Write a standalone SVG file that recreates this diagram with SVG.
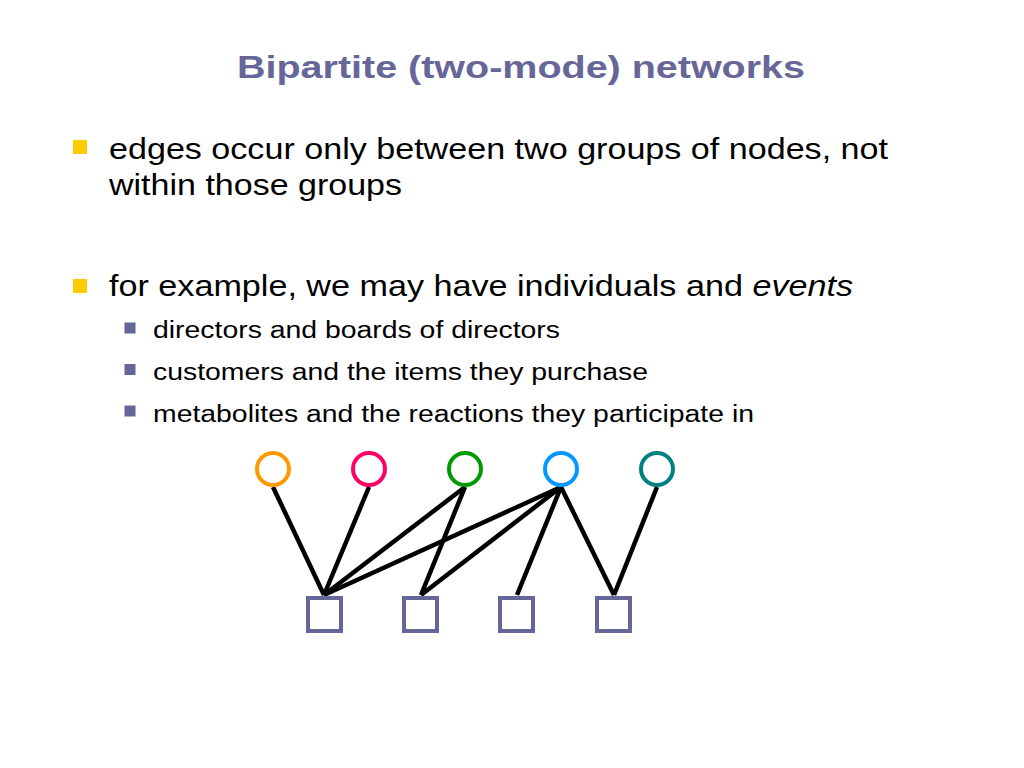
<svg xmlns="http://www.w3.org/2000/svg" width="1024" height="768" viewBox="0 0 1024 768">
<style>
.title{font-family:"Liberation Sans",Arial,sans-serif;font-weight:bold;font-size:31px;fill:#666699}
.l1{font-family:"Liberation Sans",Arial,sans-serif;font-size:29px;fill:#000}
.l2{font-family:"Liberation Sans",Arial,sans-serif;font-size:23px;fill:#000}
.b1{fill:#FFCC00}
.b2{fill:#666699}
.edge{stroke:#000;stroke-width:4.5;stroke-linecap:butt}
.circ{fill:#fff;stroke-width:4}
.sq{fill:#fff;stroke:#666699;stroke-width:4}
</style>
<rect width="1024" height="768" fill="#fff"/>
<text class="title" x="237" y="78" textLength="568" lengthAdjust="spacingAndGlyphs">Bipartite (two-mode) networks</text>
<rect class="b1" x="73" y="140" width="14" height="14"/>
<text class="l1" x="109" y="158.5" textLength="779" lengthAdjust="spacingAndGlyphs">edges occur only between two groups of nodes, not</text>
<text class="l1" x="109" y="195" textLength="293" lengthAdjust="spacingAndGlyphs">within those groups</text>
<rect class="b1" x="73" y="279" width="14" height="14"/>
<text class="l1" x="109" y="296" textLength="744" lengthAdjust="spacingAndGlyphs">for example, we may have individuals and <tspan font-style="italic">events</tspan></text>
<rect class="b2" x="124.5" y="322.5" width="11" height="11"/>
<text class="l2" x="153" y="338" textLength="407" lengthAdjust="spacingAndGlyphs">directors and boards of directors</text>
<rect class="b2" x="124.5" y="364" width="11" height="11"/>
<text class="l2" x="153" y="380" textLength="495" lengthAdjust="spacingAndGlyphs">customers and the items they purchase</text>
<rect class="b2" x="124.5" y="405.5" width="11" height="11"/>
<text class="l2" x="153" y="421.5" textLength="601" lengthAdjust="spacingAndGlyphs">metabolites and the reactions they participate in</text>
<g id="connectors">
<line class="edge" x1="273" y1="487" x2="324" y2="595"/>
<line class="edge" x1="369" y1="487" x2="324" y2="595"/>
<line class="edge" x1="465" y1="487" x2="324" y2="595"/>
<line class="edge" x1="465" y1="487" x2="421" y2="595"/>
<line class="edge" x1="561" y1="487" x2="324" y2="595"/>
<line class="edge" x1="561" y1="487" x2="421" y2="595"/>
<line class="edge" x1="561" y1="487" x2="517" y2="595"/>
<line class="edge" x1="561" y1="487" x2="614" y2="595"/>
<line class="edge" x1="657" y1="487" x2="614" y2="595"/>
</g>
<g id="c1"><circle class="circ" cx="273" cy="469" r="16" stroke="#FF9900"/></g>
<g id="c2"><circle class="circ" cx="369" cy="469" r="16" stroke="#FF0066"/></g>
<g id="c3"><circle class="circ" cx="465" cy="469" r="16" stroke="#009900"/></g>
<g id="c4"><circle class="circ" cx="561" cy="469" r="16" stroke="#0099FF"/></g>
<g id="c5"><circle class="circ" cx="657" cy="469" r="16" stroke="#008080"/></g>
<g id="s1"><rect class="sq" x="308" y="598" width="33" height="33"/></g>
<g id="s2"><rect class="sq" x="404" y="598" width="33" height="33"/></g>
<g id="s3"><rect class="sq" x="500" y="598" width="33" height="33"/></g>
<g id="s4"><rect class="sq" x="597" y="598" width="33" height="33"/></g>
</svg>
